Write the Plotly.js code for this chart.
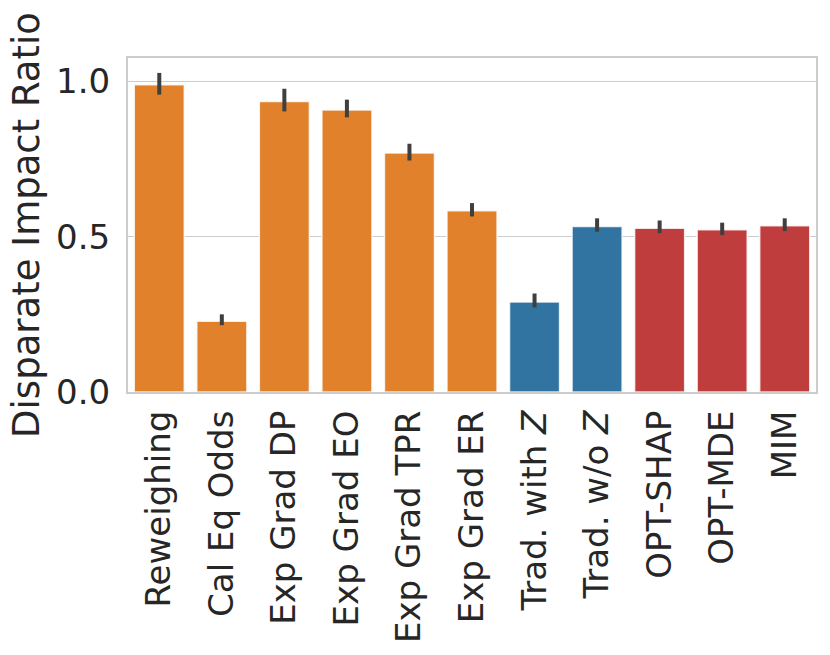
<!DOCTYPE html>
<html>
<head>
<meta charset="utf-8">
<script src="https://cdn.plot.ly/plotly-3.0.1.min.js"></script>
<style>
  body { margin: 0; background: #fff; }
  #chart { width: 830px; height: 655px; }
</style>
</head>
<body>
<div id="chart"></div>
<script>
// bar labels, mean ratio and the ends of the error bars
var methods = ['Reweighing', 'Cal Eq Odds', 'Exp Grad DP', 'Exp Grad EO', 'Exp Grad TPR',
  'Exp Grad ER', 'Trad. with <i>Z</i>', 'Trad. w/o <i>Z</i>', 'OPT-SHAP', 'OPT-MDE', 'MIM'];
var ratio = [0.989, 0.228, 0.935, 0.908, 0.769, 0.583, 0.290, 0.533, 0.527, 0.522, 0.535];
var ciLow = [0.957, 0.215, 0.903, 0.884, 0.745, 0.565, 0.272, 0.516, 0.511, 0.505, 0.518];
var ciHigh = [1.027, 0.250, 0.976, 0.941, 0.799, 0.608, 0.317, 0.559, 0.552, 0.545, 0.559];
var group = ['base', 'base', 'base', 'base', 'base', 'base', 'trad', 'trad', 'opt', 'opt', 'opt'];

var groupColor = { base: '#e1812c', trad: '#3274a1', opt: '#c03d3e' };

var trace = {
  type: 'bar',
  x: methods,
  y: ratio,
  marker: {
    color: group.map(function (g) { return groupColor[g]; }),
    line: { color: 'rgba(255,255,255,0.8)', width: 1.5 }
  },
  error_y: {
    type: 'data',
    symmetric: false,
    array: ciHigh.map(function (h, i) { return h - ratio[i]; }),
    arrayminus: ciLow.map(function (l, i) { return ratio[i] - l; }),
    color: '#3f3f3f',
    thickness: 4,
    width: 0
  },
  hoverinfo: 'x+y'
};

var layout = {
  width: 830,
  height: 655,
  margin: { l: 128, r: 14, t: 58, b: 263 },
  paper_bgcolor: '#ffffff',
  plot_bgcolor: '#ffffff',
  bargap: 0.2,
  showlegend: false,
  font: { family: 'DejaVu Sans', color: '#262626' },
  xaxis: {
    type: 'category',
    range: [-0.5, 10.5],
    tickangle: -90,
    tickfont: { family: 'DejaVu Sans', size: 34, color: '#262626' },
    ticklabelstandoff: 3,
    showgrid: false,
    showline: true,
    mirror: true,
    linecolor: '#cccccc',
    linewidth: 2,
    ticks: ''
  },
  yaxis: {
    range: [0, 1.075],
    tickvals: [0, 0.5, 1.0],
    tickformat: '.1f',
    tickfont: { family: 'DejaVu Sans', size: 34, color: '#262626' },
    ticklabelstandoff: 9,
    showgrid: true,
    gridcolor: '#cccccc',
    gridwidth: 1.5,
    zeroline: false,
    showline: true,
    mirror: true,
    linecolor: '#cccccc',
    linewidth: 2,
    ticks: '',
    title: {
      text: 'Disparate Impact Ratio',
      font: { family: 'DejaVu Sans', size: 37, color: '#262626' },
      standoff: 5
    }
  }
};

Plotly.newPlot('chart', [trace], layout, { displayModeBar: false, staticPlot: true });
</script>
</body>
</html>
